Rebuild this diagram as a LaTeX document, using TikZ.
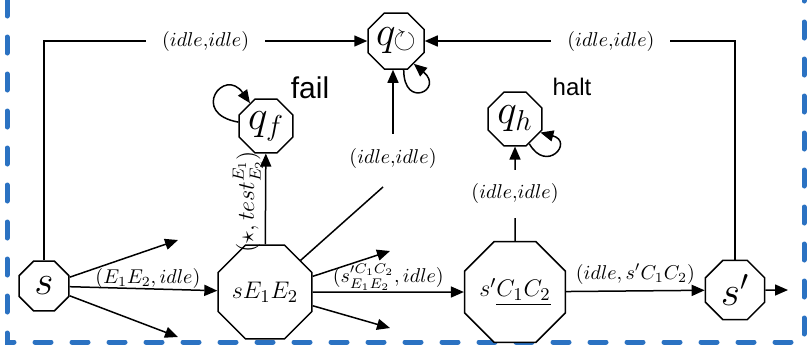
\documentclass[tikz,border=0pt]{standalone}
\usepackage{amsmath,amssymb}
\usepackage{fontspec}
\newfontfamily\tagfont{Liberation Sans}
\usepackage{xcolor}
\usepackage{tikz}
\usetikzlibrary{arrows.meta,shapes.geometric}
\definecolor{framec}{HTML}{2B72C2}
\tikzset{
  ar/.style={-{Triangle[length=6.5pt,width=5.5pt]},line width=0.75pt},
  ln/.style={line width=0.75pt},
  st/.style={draw,line width=0.75pt,regular polygon,regular polygon sides=8,inner sep=0pt,fill=white},
  lbl/.style={fill=white,inner xsep=8pt,inner ysep=7pt},
  brd/.style={framec,line width=2.5pt,line cap=round,dash pattern=on 8pt off 10.5pt}
}

\begin{document}
\begin{tikzpicture}[x=0.5pt,y=0.5pt]
\clip (0,0) rectangle (807,345);
\draw[brd] (804,360) -- (804,3) -- (7,3) -- (7,360);
\node[st,minimum size=27pt,font=\huge] (s) at (44,59) {$s$};
\node[st,minimum size=40.5pt,font=\fontsize{13}{15}\selectfont] (sE) at (265,53) {$sE_1E_2$};
\node[st,minimum size=40.5pt,font=\fontsize{13}{15}\selectfont] (sC) at (515,53) {$s'\underline{C_1C_2}$};
\node[st,minimum size=32pt,font=\huge] (sp) at (735,55) {$s'$};
\node[st,minimum size=29pt,font=\huge] (qloop) at (396,304) {$q\mkern-1mu\lower1.5pt\hbox{\Large$\circlearrowright$}$};
\node[st,minimum size=29pt,font=\huge] (qf) at (266,219) {$q_f$};
\node[st,minimum size=29pt,font=\huge] (qh) at (515,226) {$q_h$};
\node[font=\tagfont\fontsize{15}{18}\selectfont] (failtag) at (310,257) {fail};
\node[font=\tagfont\fontsize{12}{14}\selectfont] (halttag) at (572,258) {halt};
\coordinate (sU) at (178,105);
\coordinate (sD) at (178,8);
\coordinate (eU) at (390,94);
\coordinate (eD) at (390,17);
\coordinate (eM) at (383,158);
\coordinate (pOut) at (788,55);
\draw[ar] (s) -- (sE) node[pos=0.53,above,inner sep=0pt] {$(E_1E_2, idle)$};
\draw[ar] (s) -- (sU);
\draw[ar] (s) -- (sD);
\draw[ar] (sE) -- (sC) node[midway,above,inner sep=0.5pt] {$(s'^{C_1C_2}_{E_1E_2}, idle)$};
\draw[ar] (sE) -- (eU);
\draw[ar] (sE) -- (eD);
\draw[ln] (sE) -- (eM);
\draw[ar] (sE) -- (qf) node[pos=0.47,sloped,above,inner sep=1pt,font=\large] {$(\star, test^{E_1}_{E_2})$};
\draw[ar] (sC) -- (sp) node[midway,above,inner sep=3pt] {$(idle, s'C_1C_2)$};
\draw[ar] (sC) -- (qh) node[midway,lbl] {$(idle{,}idle)$};
\draw[ar] (sp) -- (pOut);
\draw[ar] (s) |- (qloop) node[pos=0.75,lbl] {$(idle{,}idle)$};
\draw[ar] (sp) |- (qloop) node[pos=0.7,lbl] {$(idle{,}idle)$};
\node[lbl] (mid) at (393,187) {$(idle{,}idle)$};
\draw[ar] (mid) -- (mid |- qloop.south);
\draw[ar] (qf.172) .. controls +(170:50) and +(125:45) .. (qf.125);
\draw[ar] (qloop.-75) .. controls +(-90:40) and +(-40:40) .. (qloop.-52);
\draw[ar] (qh.-60) .. controls +(-60:35) and +(-15:35) .. (qh.-28);
\end{tikzpicture}
\end{document}
